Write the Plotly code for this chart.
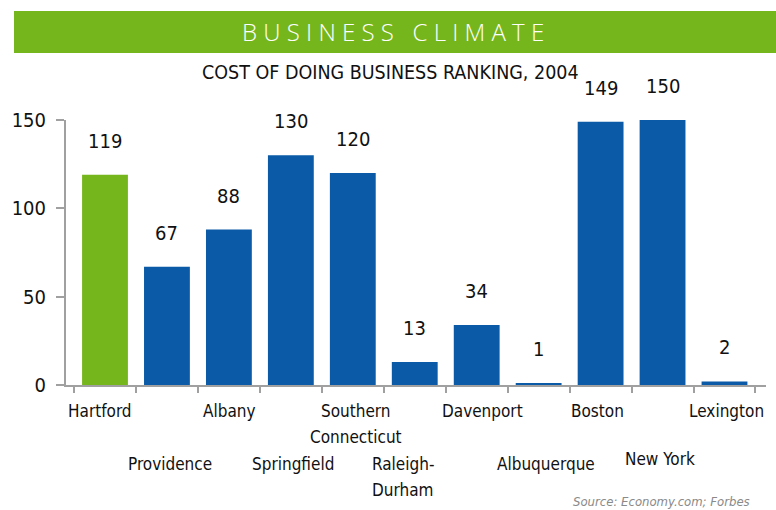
import plotly.graph_objects as go

cities = ["Hartford", "Providence", "Albany", "Springfield", "Southern Connecticut",
          "Raleigh-Durham", "Davenport", "Albuquerque", "Boston", "New York", "Lexington"]
tick_labels = ["Hartford", "Providence", "Albany", "Springfield", "Southern<br>Connecticut",
               "Raleigh-<br>Durham", "Davenport", "Albuquerque", "Boston", "New York", "Lexington"]
ranking = [119, 67, 88, 130, 120, 13, 34, 1, 149, 150, 2]
y_ticks = [0, 50, 100, 150]

GREEN = "#76B61D"
BLUE = "#0A5AA7"
FONT = "DejaVu Sans Condensed, Liberation Sans Narrow, Arial Narrow, sans-serif"

W, H = 776, 510
# plot area in page pixels: x 66..766, y 120..385
ML, MR, MT, MB = 66, 10, 120, 125
PW, PH = W - ML - MR, H - MT - MB

def px_x(px):
    return (px - ML) / PW

def px_y(py):
    return (H - MB - py) / PH

colors = [GREEN if c == "Hartford" else BLUE for c in cities]

fig = go.Figure(go.Bar(x=cities, y=ranking, marker=dict(color=colors, line=dict(width=0)),
                       hoverinfo="x+y"))

ann = []
for c, v in zip(cities, ranking):
    ann.append(dict(x=c, y=v, xref="x", yref="y", text=str(v), showarrow=False,
                    yanchor="middle", yshift=34,
                    font=dict(family=FONT, size=20, color="#111111")))

# category labels in two staggered rows (line tops measured from the axis line)
xshifts = {"Hartford": -5, "Providence": 3, "Albany": 1, "Springfield": 2,
           "Southern Connecticut": 3, "Raleigh-Durham": -14, "Davenport": 6,
           "Albuquerque": 7, "Boston": -3, "New York": -3, "Lexington": 2}
LINE = 26
for i, (c, lab) in enumerate(zip(cities, tick_labels)):
    top = -14 if i % 2 == 0 else -67
    if c == "New York":
        top = -62
    lines = lab.split("<br>")
    for j, line in enumerate(lines):
        if c == "Raleigh-Durham":
            xa, xs = "left", xshifts[c] - 31
        else:
            xa, xs = "center", xshifts.get(c, 0)
        ann.append(dict(x=c, y=0, xref="x", yref="paper", text=line, showarrow=False,
                        xanchor=xa, yanchor="top", yshift=top - j * LINE, xshift=xs,
                        font=dict(family=FONT, size=17, color="#111111")))

ann.append(dict(x=px_x(393), y=px_y(31), xref="paper", yref="paper",
                text="B U S I N E S S   C L I M A T E", showarrow=False,
                xanchor="center", yanchor="middle",
                font=dict(family="Open Sans, sans-serif", size=24, color="white", weight=300)))
ann.append(dict(x=px_x(390), y=px_y(72.5), xref="paper", yref="paper",
                text="COST OF DOING BUSINESS RANKING, 2004", showarrow=False,
                xanchor="center", yanchor="middle",
                font=dict(family=FONT, size=19.5, color="#111111")))
ann.append(dict(x=px_x(752), y=px_y(501), xref="paper", yref="paper",
                text="<i>Source: Economy.com; Forbes</i>", showarrow=False,
                xanchor="right", yanchor="middle",
                font=dict(family=FONT, size=13, color="#8a8a8a")))

fig.update_layout(
    width=W, height=H,
    margin=dict(l=ML, r=MR, t=MT, b=MB, pad=0),
    plot_bgcolor="white", paper_bgcolor="white",
    bargap=0.26,
    showlegend=False,
    annotations=ann,
    shapes=[dict(type="rect", xref="paper", yref="paper",
                 x0=px_x(14), x1=px_x(776), y0=px_y(53), y1=px_y(11),
                 fillcolor=GREEN, line=dict(width=0), layer="below")],
    xaxis=dict(showticklabels=False, ticks="outside", tickson="boundaries",
               ticklen=6, tickwidth=2, tickcolor="#a0a0a0",
               showline=True, linecolor="#a0a0a0", linewidth=2,
               showgrid=False, zeroline=False, fixedrange=True),
    yaxis=dict(range=[0, 150], tickvals=y_ticks, ticks="outside", ticklen=8,
               tickwidth=2, tickcolor="#a0a0a0",
               showline=True, linecolor="#a0a0a0", linewidth=2,
               showgrid=False, zeroline=False, ticklabelstandoff=6,
               tickfont=dict(family=FONT, size=20, color="#111111"), fixedrange=True),
)

fig.write_html("out.html", config={"displayModeBar": False},
               post_script="document.body.style.margin='0';document.body.style.overflow='hidden';")
